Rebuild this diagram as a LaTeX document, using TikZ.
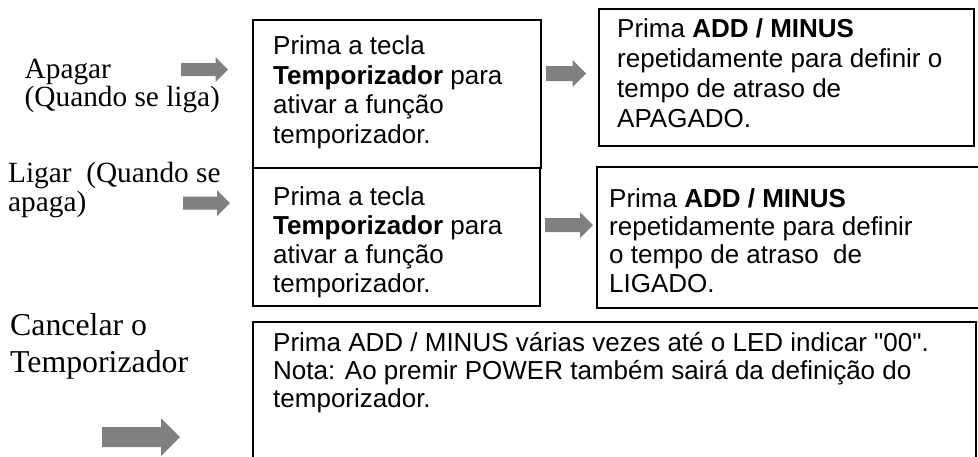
\documentclass[tikz,border=0pt]{standalone}
\usepackage{fontspec}
\setmainfont{Liberation Serif}
\setsansfont{Liberation Sans}
\definecolor{arrowgray}{HTML}{808080}
\usetikzlibrary{calc}
\tikzset{
  box/.style={draw=black,line width=2pt,inner sep=0pt,anchor=north west},
  txt/.style={font=\sffamily\fontsize{26}{29.5}\selectfont,align=left,inner sep=0pt,anchor=base west},
  lbl/.style={font=\rmfamily\fontsize{29.3}{28}\selectfont,align=left,inner sep=0pt,anchor=base west},
  blk/.style={fill=arrowgray,draw=none}}
% straight double quote, past the tex-text mapping
\newcommand{\straightquote}{\XeTeXglyph\XeTeXglyphindex "quotedbl"\relax}
% block arrow: tail x, tip x, centre y, half shaft, half head
\newcommand{\blockarrow}[5]{%
  \path[blk] (#1,#3-#4) -- (#2-#5,#3-#4) -- (#2-#5,#3-#5) -- (#2,#3)
    -- (#2-#5,#3+#5) -- (#2-#5,#3+#4) -- (#1,#3+#4) -- cycle;}
\begin{document}
\begin{tikzpicture}[x=1pt,y=-1pt]
  \clip (0,0) rectangle (978,456);
  % boxes
  \node[box,minimum width=288,minimum height=148] (tmrOff) at (252,19) {};
  \node[box,minimum width=375,minimum height=137] (addOff) at (598,8) {};
  \node[box,minimum width=287,minimum height=138] (tmrOn) at (252,167) {};
  \node[box,minimum width=400,minimum height=141] (addOn) at (596,166) {};
  \node[box,minimum width=723,minimum height=200] (cancel) at (252,321) {};
  % box texts (anchored at the last line)
  \node[txt] (tmrOffTxt) at ($(tmrOff.north west)+(21,124)$)
    {Prima a tecla\\\textbf{Temporizador} para\\ativar a função\\temporizador.};
  \node[txt,font=\sffamily\fontsize{26}{30}\selectfont] (addOffTxt) at ($(addOff.north west)+(19,119)$)
    {Prima \textbf{ADD / MINUS}\\repetidamente para definir o\\tempo de atraso de\\APAGADO.};
  \node[txt,font=\sffamily\fontsize{26}{28.7}\selectfont] (tmrOnTxt) at ($(tmrOn.north west)+(21,125)$)
    {Prima a tecla\\\textbf{Temporizador} para\\ativar a função\\temporizador.};
  \node[txt,font=\sffamily\fontsize{26}{28.3}\selectfont] (addOnTxt) at ($(addOn.north west)+(13,126)$)
    {Prima \textbf{ADD / MINUS}\\repetidamente para definir\\o tempo de atraso~ de\\LIGADO.};
  \node[txt,font=\sffamily\fontsize{26}{28}\selectfont] (cancelTxt) at ($(cancel.north west)+(21,86)$)
    {Prima ADD / MINUS várias vezes até o LED indicar \straightquote 00\straightquote.\\Nota: Ao premir POWER também sairá da definição do\\temporizador.};
  % left labels (anchored at the last line)
  \node[lbl] (offLbl) at (24.5,106) {Apagar\\(Quando se liga)};
  \node[lbl,font=\rmfamily\fontsize{29.3}{29}\selectfont] (onLbl) at (8,211) {Ligar~~(Quando se\\apaga)};
  \node[lbl,font=\rmfamily\fontsize{31.8}{37}\selectfont] (cancelLbl) at (10,372) {Cancelar o\\Temporizador};
  % grey arrows
  \blockarrow{181}{228}{69.5}{6.5}{12.5}
  \blockarrow{546}{586}{73.5}{7.5}{13.5}
  \blockarrow{183}{230}{203}{6.5}{13}
  \blockarrow{545}{593}{225}{7}{13}
  \blockarrow{102}{180}{437}{10}{19}
\end{tikzpicture}
\end{document}
